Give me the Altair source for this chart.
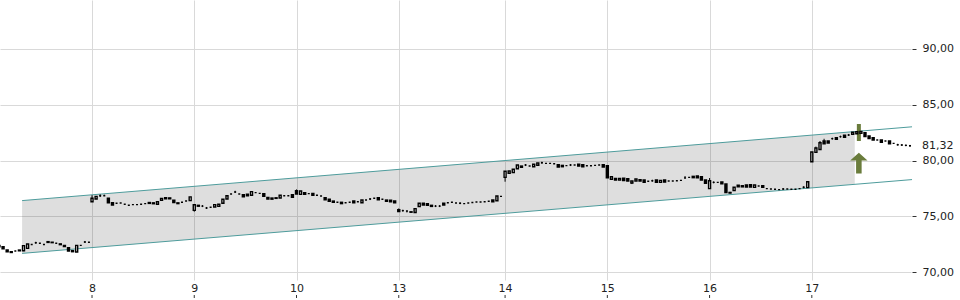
import altair as alt
import pandas as pd

# ---------------- data ----------------
DAY_LABELS = ["8", "9", "10", "13", "14", "15", "16", "17"]
DAY_START = [0, 25, 50, 75, 101, 126, 151, 176]   # candle index of each day's first candle
PRE_START = -22.75                                  # previous (unlabelled) day

PRE_O = [72.42, 72.30, 72.00, 71.85, 71.91, 71.93, 71.94, 72.15, 72.50, 72.65, 72.60, 72.50,
         72.75, 72.70, 72.60, 72.55, 72.42, 72.21, 71.95, 71.82, 72.42, 72.72, 72.69]
PRE_C = [72.30, 72.12, 71.85, 71.78, 71.91, 72.00, 72.39, 72.54, 72.50, 72.65, 72.60, 72.50,
         72.68, 72.66, 72.60, 72.48, 72.32, 71.91, 71.85, 72.42, 72.42, 72.72, 72.69]

O8 = [76.32, 76.56, 76.86, 76.86, 76.63, 76.23, 76.18, 76.21, 76.09, 76.00, 76.06, 76.06, 76.09,
      76.15, 76.25, 76.22, 76.09, 76.45, 76.58, 76.66, 76.45, 76.15, 76.27, 76.38, 76.42]
C8 = [76.63, 76.80, 76.86, 76.86, 76.23, 76.03, 76.18, 76.21, 76.09, 76.00, 76.06, 76.06, 76.09,
      76.15, 76.17, 76.14, 76.32, 76.62, 76.68, 76.58, 76.25, 76.22, 76.27, 76.38, 76.75]

O9 = [75.55, 76.00, 75.93, 75.76, 75.82, 75.85, 75.90, 76.18, 76.56, 77.01, 77.19, 77.01, 76.95,
      77.00, 76.90, 77.13, 77.07, 77.04, 76.71, 76.65, 76.67, 76.65, 76.86, 76.86, 76.95]
C9 = [76.05, 75.92, 75.93, 75.76, 75.82, 76.06, 76.10, 76.54, 76.86, 77.01, 77.19, 77.01, 76.77,
      76.85, 77.22, 77.13, 77.07, 76.80, 76.56, 76.55, 76.62, 76.90, 76.86, 76.86, 76.71]

O10 = [77.31, 76.98, 77.13, 77.04, 77.07, 76.90, 76.83, 76.68, 76.54, 76.38, 76.27, 76.27, 76.23,
       76.27, 76.38, 76.32, 76.23, 76.47, 76.56, 76.63, 76.68, 76.54, 76.47, 76.45, 76.38]
C10 = [77.01, 77.28, 76.98, 77.04, 76.90, 76.90, 76.83, 76.50, 76.36, 76.27, 76.27, 76.15, 76.23,
       76.27, 76.23, 76.32, 76.47, 76.47, 76.56, 76.63, 76.50, 76.54, 76.36, 76.32, 76.23]

O13 = [75.60, 75.52, 75.49, 75.38, 75.36, 75.88, 76.18, 76.15, 76.00, 75.93, 75.93, 76.18, 76.23,
       76.27, 76.20, 76.18, 76.15, 76.20, 76.25, 76.30, 76.30, 76.32, 76.36, 76.47, 76.41, 76.80]
C13 = [75.45, 75.52, 75.49, 75.42, 75.70, 76.18, 76.03, 76.00, 75.90, 75.93, 75.93, 76.03, 76.23,
       76.27, 76.20, 76.18, 76.15, 76.20, 76.25, 76.30, 76.30, 76.32, 76.36, 76.32, 76.83, 76.80]

O14 = [78.50, 78.86, 78.92, 79.27, 79.51, 79.60, 79.51, 79.45, 79.58, 79.81, 79.75, 79.75, 79.72,
       79.63, 79.57, 79.55, 79.60, 79.60, 79.67, 79.63, 79.54, 79.54, 79.57, 79.60, 79.63]
C14 = [79.04, 79.07, 79.22, 79.60, 79.40, 79.60, 79.51, 79.67, 79.78, 79.81, 79.75, 79.75, 79.72,
       79.43, 79.45, 79.55, 79.60, 79.60, 79.51, 79.45, 79.54, 79.54, 79.57, 79.60, 79.43]

O15 = [79.54, 78.33, 78.41, 78.25, 78.42, 78.38, 78.00, 78.17, 78.30, 78.26, 78.15, 78.20, 78.26,
       78.05, 78.26, 78.17, 78.17, 78.20, 78.23, 78.44, 78.50, 78.59, 78.62, 78.56, 78.26]
C15 = [78.47, 78.56, 78.26, 78.40, 78.22, 78.17, 78.17, 78.35, 78.17, 78.05, 78.15, 78.20, 78.05,
       78.23, 78.08, 78.17, 78.17, 78.20, 78.23, 78.44, 78.50, 78.47, 78.47, 78.26, 77.96]

O16 = [77.49, 78.05, 78.05, 78.08, 77.90, 77.15, 77.31, 77.80, 77.75, 77.82, 77.85, 77.60, 77.72,
       77.75, 77.49, 77.46, 77.43, 77.40, 77.46, 77.46, 77.43, 77.43, 77.49, 77.61, 77.58]
C16 = [78.20, 78.05, 78.05, 77.93, 77.13, 77.10, 77.61, 77.65, 77.65, 77.64, 77.64, 77.82, 77.72,
       77.60, 77.49, 77.46, 77.43, 77.40, 77.46, 77.46, 77.43, 77.43, 77.49, 77.61, 78.11]

O17 = [79.90, 80.73, 80.99, 81.75, 81.75, 81.96, 82.05, 82.14, 82.26, 82.29, 82.35, 82.40, 82.43,
       82.50, 82.20, 82.05, 81.84, 81.84, 81.75, 81.75, 81.54, 81.42, 81.39, 81.36, 81.32]
C17 = [80.77, 81.13, 81.60, 81.51, 81.57, 81.96, 81.90, 82.14, 82.08, 82.29, 82.53, 82.58, 82.60,
       82.14, 81.96, 81.84, 81.84, 81.63, 81.75, 81.51, 81.54, 81.42, 81.39, 81.36, 81.32]

# wicks that reach beyond the body: (day, candle no., low, high)
WICKS = [
    ("pre", 6, 71.90, 72.45), ("pre", 9, 72.56, 72.74), ("pre", 21, 72.63, 72.81),
    ("8", 0, 76.32, 76.90), ("8", 2, 76.74, 76.98), ("8", 3, 76.86, 76.95),
    ("9", 0, 75.43, 76.08), ("9", 2, 75.84, 76.02), ("9", 3, 75.67, 75.85), ("9", 10, 77.10, 77.30),
    ("10", 0, 77.01, 77.42), ("10", 18, 76.47, 76.65),
    ("13", 0, 75.45, 75.72), ("13", 1, 75.43, 75.61), ("13", 2, 75.36, 75.49),
    ("13", 9, 75.84, 76.02), ("13", 10, 75.84, 76.02), ("13", 15, 76.10, 76.26),
    ("14", 0, 78.11, 79.04), ("14", 5, 79.51, 79.69), ("14", 9, 79.72, 79.90), ("14", 16, 79.51, 79.69),
    ("15", 0, 78.47, 79.60), ("15", 6, 77.90, 78.17), ("15", 11, 78.11, 78.29), ("15", 19, 78.44, 78.62),
    ("16", 0, 77.49, 78.44), ("16", 1, 77.96, 78.14), ("16", 5, 77.05, 77.20),
    ("16", 18, 77.38, 77.54), ("16", 23, 77.52, 77.70),
    ("17", 1, 80.73, 81.25), ("17", 2, 80.99, 81.75), ("17", 3, 81.51, 81.95), ("17", 5, 81.87, 82.05),
    ("17", 7, 82.05, 82.23), ("17", 9, 82.20, 82.38), ("17", 21, 81.34, 81.50),
    ("17", 22, 81.31, 81.47), ("17", 23, 81.28, 81.44), ("17", 24, 81.24, 81.40),
]

# trend channel
BAND_X = [-17.1, 186.5]
BAND_UP = [76.42, 82.60]
BAND_LO = [71.70, 77.88]
LINE_X = [-17.1, 200.5]
LINE_UP = [76.42, 83.02]
LINE_LO = [71.70, 78.30]

# buy signal
SIGNAL_X = [187.5]
SIGNAL_TOP = [83.27]
SIGNAL_BOTTOM = [81.75]
ARROW_Y = [79.78]

LAST_PRICE = [81.32]
Y_TICKS = [70, 75, 80, 85, 90]
Y_MIN, Y_MAX = 69.32, 94.36
X_MIN, X_MAX = -22.5, 200.25

GREEN = "#6a7c3c"
TEAL = "#4e9c9c"
GRID = "#d9d9d9"
FONT = "DejaVu Sans"
W, H = 911, 280

# ---------------- build tables ----------------
days = [("pre", PRE_START, PRE_O, PRE_C)] + [
    (lab, st, o, c) for lab, st, o, c in zip(
        DAY_LABELS, DAY_START,
        [O8, O9, O10, O13, O14, O15, O16, O17],
        [C8, C9, C10, C13, C14, C15, C16, C17])
]
rows = {}
for lab, st, O, C in days:
    for k, (o, c) in enumerate(zip(O, C)):
        rows[(lab, k)] = {"i": st + k, "o": o, "c": c, "h": max(o, c), "l": min(o, c)}
for lab, k, lo, hi in WICKS:
    if (lab, k) in rows:
        rows[(lab, k)]["l"] = min(lo, rows[(lab, k)]["l"])
        rows[(lab, k)]["h"] = max(hi, rows[(lab, k)]["h"])
candles = pd.DataFrame(list(rows.values()))

band_df = pd.DataFrame({"x": BAND_X, "up": BAND_UP, "lo": BAND_LO})
line_df = pd.DataFrame({
    "x": LINE_X + LINE_X,
    "v": LINE_UP + LINE_LO,
    "s": ["up"] * len(LINE_X) + ["lo"] * len(LINE_X),
})
sig_df = pd.DataFrame({"x": SIGNAL_X, "top": SIGNAL_TOP, "bot": SIGNAL_BOTTOM, "ay": ARROW_Y})
last_df = pd.DataFrame({"p": LAST_PRICE,
                        "t": [f"{v:.2f}".replace(".", ",") for v in LAST_PRICE]})
days_df = pd.DataFrame({"d": DAY_START})

# ---------------- scales & axes ----------------
xs = alt.Scale(domain=[X_MIN, X_MAX], nice=False, zero=False, padding=0)
ys = alt.Scale(domain=[Y_MIN, Y_MAX], nice=False, zero=False, padding=0)

label_expr = "".join(f"datum.value == {s} ? '{l}' : " for s, l in zip(DAY_START, DAY_LABELS)) + "''"
x_axis = alt.Axis(values=DAY_START, labelExpr=label_expr, orient="bottom", ticks=False,
                  domain=False, grid=True, gridColor=GRID, labelPadding=2, title=None,
                  labelOverlap=False, labelFlush=False)
y_axis = alt.Axis(values=Y_TICKS, orient="right",
                  labelExpr="replace(format(datum.value, '.2f'), '.', ',')",
                  tickSize=4, offset=1, labelPadding=6, domain=False, grid=True, gridColor=GRID,
                  tickColor="#333333", title=None, labelOverlap=False)

X = lambda f: alt.X(f, scale=xs, axis=x_axis)
Y = lambda f: alt.Y(f, scale=ys, axis=y_axis)

# ---------------- layers ----------------
band = alt.Chart(band_df).mark_area(color="#000000", opacity=0.13).encode(
    x=X("x:Q"), y=Y("up:Q"), y2="lo:Q",
)
lines = alt.Chart(line_df).mark_line(color=TEAL, strokeWidth=1).encode(
    x=X("x:Q"), y=Y("v:Q"), detail="s:N",
)
sig_bar = alt.Chart(sig_df).mark_rule(color=GREEN, strokeWidth=4).encode(
    x=X("x:Q"), y=Y("top:Q"), y2="bot:Q",
)
ARROW_PATH = "M0,-1.2L1,-0.3L0.32,-0.3L0.32,1.2L-0.32,1.2L-0.32,-0.3L-1,-0.3Z"
arrow = alt.Chart(sig_df).mark_point(shape=ARROW_PATH, filled=True, color=GREEN, opacity=1,
                                     size=300, strokeWidth=0).encode(
    x=X("x:Q"), y=Y("ay:Q"),
)
wicks = alt.Chart(candles).mark_rule(color="black", strokeWidth=1).encode(
    x=X("i:Q"), y=Y("l:Q"), y2="h:Q",
)
bodies = alt.Chart(candles).mark_bar(width=2, stroke="black", strokeWidth=1.4).encode(
    x=X("i:Q"), y=Y("o:Q"), y2="c:Q",
    fill=alt.condition("datum.c > datum.o", alt.value("white"), alt.value("black")),
)
# small axis tick marks drawn below the day labels
day_ticks = alt.Chart(days_df).mark_rule(color="#333333", strokeWidth=1).encode(
    x=X("d:Q"), y=alt.value(H + 15), y2=alt.value(H + 18),
)
last_lbl = alt.Chart(last_df).mark_text(align="left", baseline="middle", font=FONT, fontSize=11,
                                        color="#222222").encode(
    x=alt.value(W + 11), y=Y("p:Q"), text="t:N",
)

chart = (
    alt.layer(band, lines, sig_bar, arrow, wicks, bodies, day_ticks, last_lbl)
    .properties(width=W, height=H, autosize="none",
                padding={"left": 0, "top": 0, "right": 960 - W, "bottom": 300 - H})
    .configure_view(stroke=None)
    .configure_axis(labelFont=FONT, labelFontSize=11, labelColor="#222222")
)

chart.save("out.html", embed_options={"renderer": "svg", "actions": False})
